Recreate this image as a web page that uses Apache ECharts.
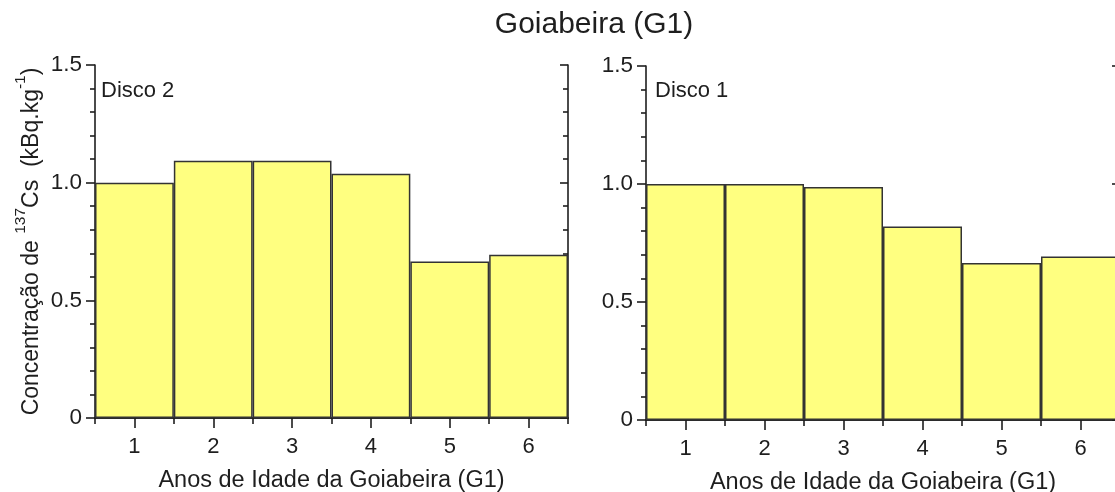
<!DOCTYPE html>
<html>
<head>
<meta charset="utf-8">
<script src="https://cdn.jsdelivr.net/npm/echarts@6/dist/echarts.min.js"></script>
<style>
  html, body { margin: 0; padding: 0; background: #ffffff; }
  #chart { width: 1115px; height: 492px; }
</style>
</head>
<body>
<div id="chart"></div>
<script>
// Tree age categories (years)
const years = ['1', '2', '3', '4', '5', '6'];
// 137Cs concentration per annual ring (kBq.kg-1)
const disco2 = [1.00, 1.093, 1.093, 1.038, 0.665, 0.694];
const disco1 = [1.00, 1.00, 0.987, 0.82, 0.665, 0.693];
// Concentration axis range
const yMin = 0;
const yMax = 1.5;
const yStep = 0.5;

const chartTitle = 'Goiabeira (G1)';
const panelNames = ['Disco 2', 'Disco 1'];
const xName = 'Anos de Idade da Goiabeira (G1)';

const FONT = '"Liberation Sans", Arial, sans-serif';
const INK = '#1e1e1e';
const lineStyle = { color: INK, width: 1.6 };

const grids = [
  { left: 95, top: 65, width: 473, height: 353, outerBoundsMode: 'none', containLabel: false },
  { left: 646, top: 66, width: 474, height: 354, outerBoundsMode: 'none', containLabel: false }
];

function yLabel(v) { return v === 0 ? '0' : v.toFixed(1); }

const xAxes = [];
const yAxes = [];
grids.forEach((g, i) => {
  // bottom category axis with labels
  xAxes.push({
    type: 'category', gridIndex: i, data: years, position: 'bottom',
    name: xName, nameLocation: 'middle', nameGap: 51,
    nameTextStyle: { fontFamily: FONT, fontSize: 23.5, color: INK },
    axisLine: { show: true, lineStyle },
    axisTick: { show: true, alignWithLabel: true, length: 10, lineStyle },
    axisLabel: { fontFamily: FONT, fontSize: 22, color: INK, margin: 18 },
    splitLine: { show: false }
  });
  // top frame with inward ticks at bar boundaries
  xAxes.push({
    type: 'category', gridIndex: i, data: years, position: 'top',
    axisLine: { show: true, lineStyle },
    axisTick: { show: true, inside: true, length: 6, lineStyle },
    axisLabel: { show: false },
    splitLine: { show: false }
  });
  const yLeft = {
    type: 'value', gridIndex: i, position: 'left',
    min: yMin, max: yMax, interval: yStep,
    axisLine: { show: true, lineStyle },
    axisTick: { show: true, length: 9, lineStyle },
    minorTick: { show: true, splitNumber: 5, length: 5, lineStyle },
    axisLabel: { fontFamily: FONT, fontSize: 22.5, color: INK, margin: 13, formatter: yLabel },
    splitLine: { show: false },
    minorSplitLine: { show: false }
  };
  if (i === 0) {
    yLeft.name = '{t|Concentração de }{s|137}{t|Cs  (kBq.kg}{s|-1}{t|)}';
    yLeft.nameLocation = 'middle';
    yLeft.nameGap = 52;
    yLeft.nameRotate = 90;
    yLeft.nameTextStyle = {
      fontFamily: FONT, color: INK,
      rich: {
        t: { fontFamily: FONT, fontSize: 23, color: INK, lineHeight: 30, verticalAlign: 'bottom' },
        s: { fontFamily: FONT, fontSize: 15.5, color: INK, lineHeight: 30, verticalAlign: 'top' }
      }
    };
  }
  yAxes.push(yLeft);
  // right frame with inward ticks
  yAxes.push({
    type: 'value', gridIndex: i, position: 'right',
    min: yMin, max: yMax, interval: yStep,
    axisLine: { show: true, lineStyle },
    axisTick: { show: true, inside: true, length: 8, lineStyle },
    minorTick: { show: true, splitNumber: 5, length: 5, lineStyle },
    axisLabel: { show: false },
    splitLine: { show: false },
    minorSplitLine: { show: false }
  });
});

const barStyle = { color: '#ffff80', borderColor: '#333', borderWidth: 1.5 };
const seriesData = [disco2, disco1];

const option = {
  animation: false,
  backgroundColor: '#ffffff',
  grid: grids,
  xAxis: xAxes,
  yAxis: yAxes,
  series: seriesData.map((d, i) => ({
    type: 'bar', xAxisIndex: i * 2, yAxisIndex: i * 2,
    data: d, barCategoryGap: 0, itemStyle: barStyle, z: 1
  })),
  graphic: [
    {
      type: 'text', x: 594, y: 10,
      style: { text: chartTitle, align: 'center', textAlign: 'center', fontFamily: FONT, fontSize: 30, fill: INK }
    }
  ].concat(panelNames.map((n, i) => ({
    type: 'text', x: grids[i].left + (i === 0 ? 6 : 9), y: 80,
    style: { text: n, fontFamily: FONT, fontSize: 22, fill: INK }
  })))
};

const chart = echarts.init(document.getElementById('chart'), null, { renderer: 'canvas' });
chart.setOption(option);
</script>
</body>
</html>
